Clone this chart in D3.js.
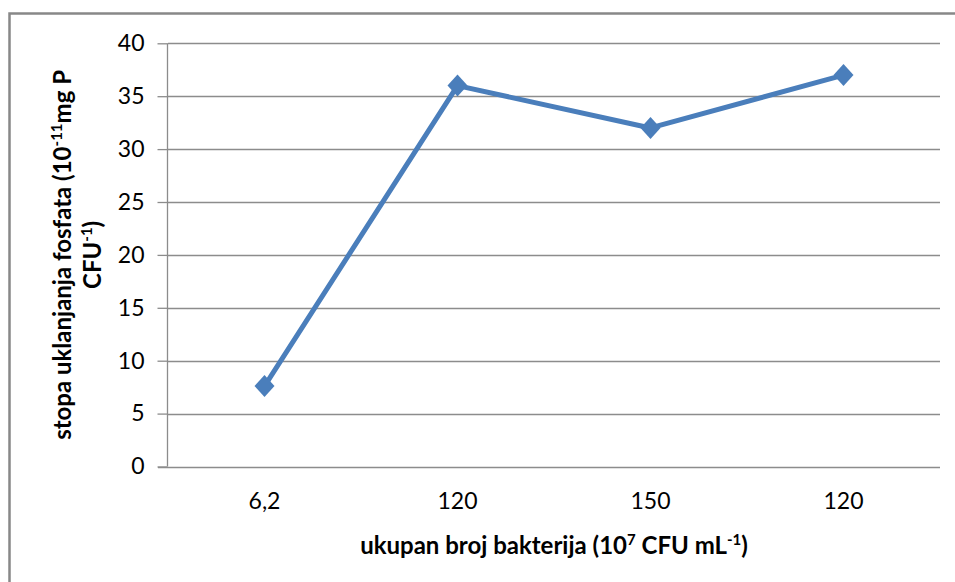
<!DOCTYPE html>
<html>
<head>
<meta charset="utf-8">
<script src="https://cdn.jsdelivr.net/npm/d3@7"></script>
<style>
  html, body { margin: 0; padding: 0; background: #fff; }
  svg { display: block; }
  text { font-family: Lato, "Open Sans", sans-serif; fill: #000; }
</style>
</head>
<body>
<svg id="chart" width="955" height="582"></svg>
<script>
// Data
const categories = ["6,2", "120", "150", "120"];
const values = [7.6, 36, 32, 37];
const yTicks = [0, 5, 10, 15, 20, 25, 30, 35, 40];

const W = 955, H = 582;
const margin = { left: 168, right: 15, top: 43.3, bottom: 115.5 };
const svg = d3.select("#chart");

// outer border
svg.append("rect")
  .attr("x", 9.5).attr("y", 13.5)
  .attr("width", W + 20).attr("height", H + 20)
  .attr("fill", "#fff").attr("stroke", "#888").attr("stroke-width", 2.5);

const x0 = margin.left, x1 = W - margin.right;
const y0 = margin.top, y1 = H - margin.bottom;

const idx = categories.map((d, i) => i);
const x = d3.scaleBand().domain(idx).range([x0, x1]).paddingInner(0).paddingOuter(0);
const y = d3.scaleLinear().domain([0, 40]).range([y1, y0]);

// gridlines
svg.append("g")
  .selectAll("line").data(yTicks.filter(t => t > 0)).join("line")
  .attr("x1", x0).attr("x2", x1)
  .attr("y1", d => Math.round(y(d)) + 0.5).attr("y2", d => Math.round(y(d)) + 0.5)
  .attr("stroke", "#8c8c8c").attr("stroke-width", 1.3);

// y axis
const yAxis = d3.axisLeft(y).tickValues(yTicks).tickSize(10).tickPadding(13);
const gy = svg.append("g").attr("transform", `translate(${x0 - 0.5},0)`).call(yAxis);
gy.select(".domain").attr("stroke", "#8c8c8c").attr("stroke-width", 1.3).attr("d", `M0,${y0}V${y1}`);
gy.selectAll(".tick line").attr("stroke", "#8c8c8c").attr("stroke-width", 1.3);
gy.selectAll(".tick text").style("font-family", "Lato, 'Open Sans', sans-serif").style("font-size", "23px").attr("fill", "#000");

// x axis
const xAxis = d3.axisBottom(x).tickFormat(i => categories[i]).tickSize(0).tickPadding(25);
const gx = svg.append("g").attr("transform", `translate(0,${Math.round(y1) + 0.5})`).call(xAxis);
gx.select(".domain").attr("stroke", "#8c8c8c").attr("stroke-width", 1.3).attr("d", `M${x0 - 10},0H${x1}`);
gx.selectAll(".tick text").style("font-family", "Lato, 'Open Sans', sans-serif").style("font-size", "23px").attr("fill", "#000");

// line
const cx = i => x(i) + x.bandwidth() / 2;
const line = d3.line().x((d, i) => cx(i)).y(d => y(d));
svg.append("path").datum(values)
  .attr("d", line).attr("fill", "none")
  .attr("stroke", "#4A7EBB").attr("stroke-width", 5).attr("stroke-linejoin", "round");

// diamond markers
svg.append("g").selectAll("path").data(values).join("path")
  .attr("transform", (d, i) => `translate(${cx(i)},${y(d)})`)
  .attr("d", "M0,-11L10,0L0,11L-10,0Z")
  .attr("fill", "#4A7EBB");

// x title
const xt = svg.append("text")
  .attr("x", (x0 + x1) / 2).attr("y", 554)
  .attr("text-anchor", "middle")
  .style("font-weight", "bold").style("font-size", "24px");
xt.append("tspan").text("ukupan broj bakterija (10");
xt.append("tspan").text("7").style("font-size", "15px").attr("dy", -9);
xt.append("tspan").text(" CFU mL").attr("dy", 9);
xt.append("tspan").text("-1").style("font-size", "15px").attr("dy", -9);
xt.append("tspan").text(")").attr("dy", 9);

// y title (two lines)
const cy = (y0 + y1) / 2;
const yt1 = svg.append("text")
  .attr("transform", `translate(71,${cy}) rotate(-90)`)
  .attr("text-anchor", "middle")
  .style("font-weight", "bold").style("font-size", "24px");
yt1.append("tspan").text("stopa uklanjanja fosfata (10");
yt1.append("tspan").text("-11").style("font-size", "15px").attr("dy", -9);
yt1.append("tspan").text("mg P").attr("dy", 9);

const yt2 = svg.append("text")
  .attr("transform", `translate(101,${cy}) rotate(-90)`)
  .attr("text-anchor", "middle")
  .style("font-weight", "bold").style("font-size", "24px");
yt2.append("tspan").text("CFU");
yt2.append("tspan").text("-1").style("font-size", "15px").attr("dy", -9);
yt2.append("tspan").text(")").attr("dy", 9);
</script>
</body>
</html>
